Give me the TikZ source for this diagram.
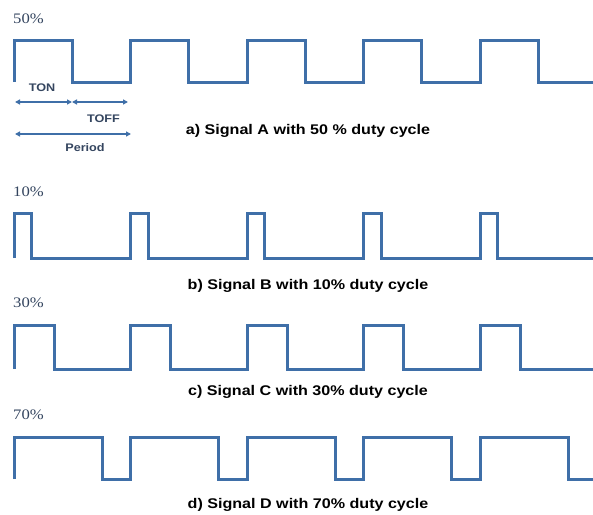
\documentclass[tikz,border=0pt]{standalone}
\usepackage{fontspec}
\setmainfont{Liberation Sans}
\newfontfamily\pctfont{Liberation Serif}
\usepackage{xcolor}
\usetikzlibrary{arrows.meta, positioning}
\definecolor{wavecol}{HTML}{3F6FA8}
\definecolor{labelcol}{HTML}{34455F}

\begin{document}
\begin{tikzpicture}[x=1pt, y=-1pt,
    wave/.style={draw=wavecol, line width=3pt, line join=miter, line cap=butt},
    pct/.style={anchor=base west, inner sep=0pt, text=labelcol, xscale=1.15,
                font=\pctfont\fontsize{14.5}{14.5}\selectfont},
    caption/.style={anchor=base, inner sep=0pt, xscale=1.15,
                    font=\bfseries\fontsize{14}{14}\selectfont},
    dimtext/.style={inner sep=0pt, text=labelcol, xscale=1.15,
                    font=\bfseries\fontsize{11}{11}\selectfont},
    dimarr/.style={{Triangle[length=5pt,width=5pt]}-{Triangle[length=5pt,width=5pt]},
                   draw=wavecol, line width=1.5pt}
  ]
  \useasboundingbox (0,0) rectangle (593,514);

  % four PWM signals: name / high y / low y / on width / label / caption
  \foreach \n/\ytop/\ybot/\wid/\pct/\pb/\cap/\cb in {
      a/40/82/58/50/23/{a) Signal A with 50 \% duty cycle}/134.5,
      b/213/258/17.5/10/196/{b) Signal B with 10\% duty cycle}/289,
      c/325/369/40/30/307/{c) Signal C with 30\% duty cycle}/395.5,
      d/437/479/88/70/419/{d) Signal D with 70\% duty cycle}/508} {
    % collect one continuous path for the pulse train
    \xdef\wavepath{(14,\ybot)}
    \foreach \k in {0,...,4} {
      \pgfmathsetmacro\xr{14+116.5*\k}
      \pgfmathsetmacro\xf{\xr+\wid}
      \pgfmathsetmacro\xn{min(\xr+116.5,593)}
      \xdef\wavepath{\wavepath -- (\xr,\ytop) -- (\xf,\ytop)
                     -- (\xf,\ybot) -- (\xn,\ybot)}
    }
    \edef\drawwave{\noexpand\draw[wave] \wavepath;}
    \drawwave
    \node[pct] (pct-\n) at (13,\pb) {\pct\%};
    \node[caption] (cap-\n) at (308,\cb) {\cap};
  }

  % timing marks on signal A
  \coordinate (ton-l)  at (15,102);
  \coordinate (ton-r)  at (72,102);
  \coordinate (toff-r) at (128,102);
  \coordinate (per-l)  at (15,134);
  \coordinate (per-r)  at (131,134);
  \draw[dimarr] (ton-l) -- (ton-r);
  \draw[dimarr] (ton-r) -- (toff-r);
  \draw[dimarr] (per-l) -- (per-r);
  \node[dimtext] (ton)  at (42,88)  {TON};
  \node[dimtext] (toff) at (103.5,119) {TOFF};
  \node[dimtext] (per)  at (85,148) {Period};
\end{tikzpicture}
\end{document}
